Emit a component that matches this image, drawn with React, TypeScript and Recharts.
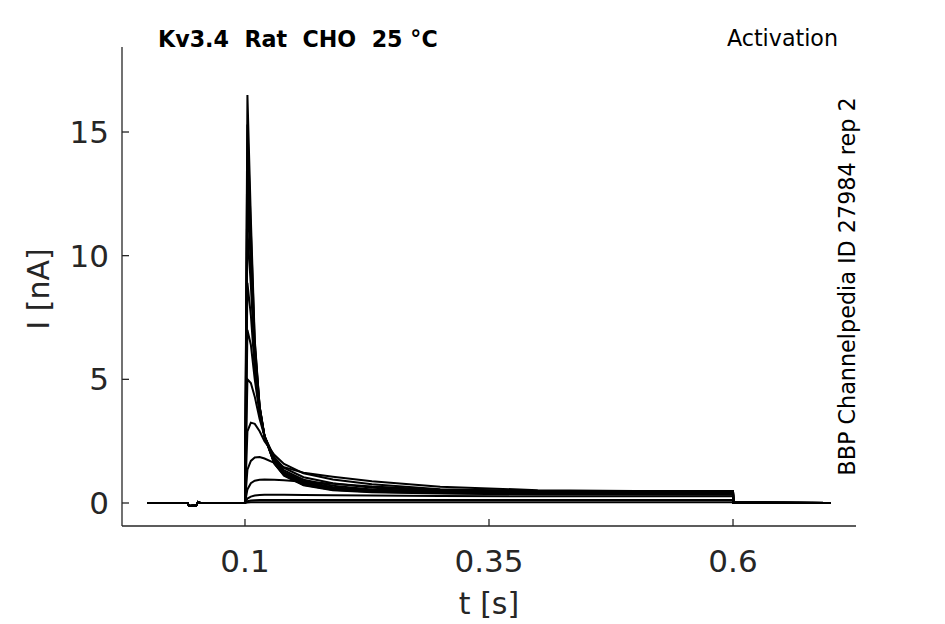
import React from 'react';
import { LineChart, Line, XAxis, YAxis } from 'recharts';

// time samples [s]
const times = [0, 0.041, 0.043, 0.05, 0.052, 0.054, 0.1, 0.1025, 0.106, 0.11, 0.115, 0.12, 0.13, 0.14, 0.16, 0.19, 0.23, 0.3, 0.4, 0.5, 0.6, 0.6005, 0.7];

// shared holding-potential segment (t = 0 .. 0.1 s) [nA]
const baseline = [0, 0, -0.12, -0.1, 0.04, 0, 0];
// after the test pulse (t = 0.6005, 0.7 s) [nA]
const afterPulse = [0.01, 0];

// test-pulse currents at t = 0.1025 .. 0.6 s [nA]
const trace1 = [16.5, 11.5, 6.6, 3.9, 2.7, 1.6, 1.1, 0.72, 0.52, 0.43, 0.38, 0.35, 0.34, 0.33];
const trace2 = [15.3, 11.0, 6.5, 3.9, 2.7, 1.6, 1.12, 0.74, 0.54, 0.45, 0.4, 0.37, 0.36, 0.36];
const trace3 = [13.6, 10.3, 6.3, 3.9, 2.7, 1.62, 1.15, 0.76, 0.56, 0.47, 0.42, 0.39, 0.39, 0.39];
const trace4 = [12.4, 9.6, 6.1, 3.85, 2.7, 1.65, 1.18, 0.8, 0.58, 0.48, 0.43, 0.41, 0.41, 0.41];
const trace5 = [11.0, 8.8, 5.8, 3.8, 2.7, 1.68, 1.2, 0.83, 0.6, 0.5, 0.44, 0.43, 0.43, 0.44];
const trace6 = [8.9, 7.6, 5.4, 3.7, 2.7, 1.72, 1.25, 0.88, 0.64, 0.52, 0.46, 0.45, 0.45, 0.46];
const trace7 = [7.0, 6.4, 5.0, 3.6, 2.7, 1.78, 1.32, 0.94, 0.7, 0.55, 0.48, 0.46, 0.46, 0.47];
const trace8 = [5.0, 4.85, 4.3, 3.4, 2.7, 1.85, 1.42, 1.04, 0.8, 0.62, 0.5, 0.47, 0.47, 0.48];
const trace9 = [2.9, 3.25, 3.2, 2.9, 2.5, 1.95, 1.58, 1.2, 0.95, 0.76, 0.56, 0.49, 0.48, 0.48];
const trace10 = [1.35, 1.7, 1.84, 1.86, 1.8, 1.62, 1.45, 1.22, 1.06, 0.88, 0.66, 0.52, 0.49, 0.48];
const trace11 = [0.55, 0.8, 0.9, 0.94, 0.95, 0.94, 0.92, 0.86, 0.78, 0.67, 0.54, 0.46, 0.43, 0.42];
const trace12 = [0.18, 0.26, 0.3, 0.32, 0.33, 0.33, 0.33, 0.32, 0.31, 0.3, 0.28, 0.27, 0.27, 0.27];
const trace13 = [0.07, 0.1, 0.11, 0.12, 0.12, 0.12, 0.12, 0.12, 0.12, 0.12, 0.12, 0.12, 0.12, 0.12];
const trace14 = [0.02, 0.03, 0.03, 0.03, 0.03, 0.03, 0.03, 0.03, 0.03, 0.03, 0.03, 0.03, 0.03, 0.03];

const traces = [trace1, trace2, trace3, trace4, trace5, trace6, trace7, trace8, trace9, trace10, trace11, trace12, trace13, trace14];

const xTicks = [0.1, 0.35, 0.6];
const yTicks = [0, 5, 10, 15];

const data = times.map((t, i) => {
  const row: Record<string, number> = { t };
  traces.forEach((tr, k) => {
    const full = [...baseline, ...tr, ...afterPulse];
    row['s' + k] = full[i];
  });
  return row;
});

const AX = '#262626';
const FONT = 'DejaVu Sans';

export default function App() {
  return (
    <div style={{ position: 'absolute', left: 0, top: 0, width: 945, height: 624, background: '#fff' }}>
      <LineChart
        width={945}
        height={624}
        data={data}
        margin={{ top: 47, right: 89, bottom: 0, left: 0 }}
      >
        <XAxis
          dataKey="t"
          type="number"
          domain={[-0.026, 0.726]}
          ticks={xTicks}
          interval={0}
          allowDataOverflow
          height={98}
          tickSize={-7}
          tickMargin={31}
          axisLine={{ stroke: AX, strokeWidth: 1.3 }}
          tickLine={{ stroke: AX, strokeWidth: 1.3 }}
          tick={{ fill: AX, fontSize: 31, fontFamily: FONT }}
        />
        <YAxis
          type="number"
          domain={[-0.93, 18.437]}
          ticks={yTicks}
          interval={0}
          allowDataOverflow
          width={122}
          tickSize={-7}
          tickMargin={20}
          axisLine={{ stroke: AX, strokeWidth: 1.3 }}
          tickLine={{ stroke: AX, strokeWidth: 1.3 }}
          tick={{ fill: AX, fontSize: 31, fontFamily: FONT }}
        />
        {traces.map((_, k) => (
          <Line
            key={k}
            dataKey={'s' + k}
            type="linear"
            stroke="#000"
            strokeWidth={2}
            dot={false}
            isAnimationActive={false}
          />
        ))}
      </LineChart>
      <svg
        width={945}
        height={624}
        style={{ position: 'absolute', left: 0, top: 0, pointerEvents: 'none' }}
      >
        <text x={158} y={47} fontFamily={FONT} fontSize={22.2} fontWeight="bold" fill="#000" xmlSpace="preserve">
          Kv3.4  Rat  CHO  25 °C
        </text>
        <text x={838} y={46} fontFamily={FONT} fontSize={22.2} textAnchor="end" fill="#000">
          Activation
        </text>
        <text
          transform="translate(855,286.5) rotate(-90)"
          fontFamily={FONT}
          fontSize={22.3}
          textAnchor="middle"
          fill="#000"
        >
          BBP Channelpedia ID 27984 rep 2
        </text>
        <text x={489} y={614} fontFamily={FONT} fontSize={30} textAnchor="middle" fill={AX}>
          t [s]
        </text>
        <text
          transform="translate(49,289) rotate(-90)"
          fontFamily={FONT}
          fontSize={30}
          textAnchor="middle"
          fill={AX}
        >
          I [nA]
        </text>
      </svg>
    </div>
  );
}
